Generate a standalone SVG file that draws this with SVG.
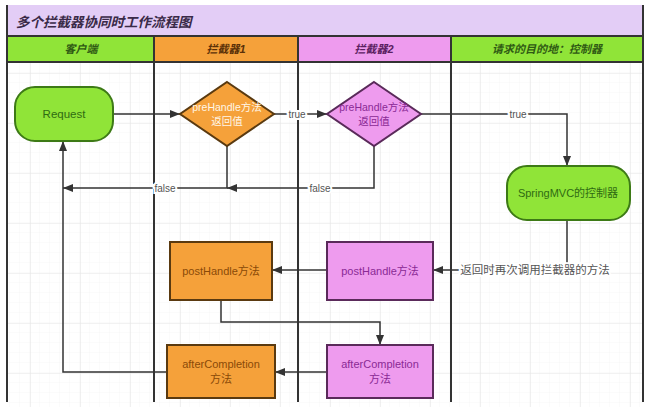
<svg xmlns="http://www.w3.org/2000/svg" width="655" height="407" viewBox="0 0 655 407">
<defs>
<pattern id="gridMinor" x="0" y="3" width="10" height="10" patternUnits="userSpaceOnUse">
<path d="M10,0 V10 M0,10 H10" fill="none" stroke="#f6f6f6" stroke-width="1"/>
</pattern>
<pattern id="gridMajor" x="30" y="23" width="50" height="50" patternUnits="userSpaceOnUse">
<path d="M0,0 V50 M0,0 H50" fill="none" stroke="#e6e6e6" stroke-width="1.2"/>
</pattern>
<marker id="arr" viewBox="0 0 10 8" refX="10" refY="4" markerWidth="10" markerHeight="8" markerUnits="userSpaceOnUse" orient="auto">
<path d="M0,0 L10,4 L0,8 z" fill="#333"/>
</marker>
<style>
text{font-family:"Liberation Sans","Noto Sans CJK SC",sans-serif;}
.hdr{font-size:11px;font-weight:bold;font-style:italic;text-anchor:middle;}
.lane{stroke:#333;stroke-width:2;fill:none;}
.conn{stroke:#333;stroke-width:1.5;fill:none;marker-end:url(#arr);}
.lbl{font-size:10px;fill:#555;text-anchor:middle;paint-order:stroke;stroke:#fff;stroke-width:4px;}
.green{fill:#90e438;stroke:#3d7a16;stroke-width:2;}
.orange{fill:#f5a13a;stroke:#5a3a10;stroke-width:2;}
.pink{fill:#ee9bee;stroke:#5a2a5a;stroke-width:2;}
.nt{font-size:11px;text-anchor:middle;}
.dt{font-size:10.5px;text-anchor:middle;}
.gt{fill:#2f6b12;}
.ot{fill:#8a4a08;}
.owt{fill:#fff6e6;}
.pt{fill:#8a2a95;}
</style>
</defs>
<rect x="0" y="0" width="655" height="407" fill="#fff"/>
<!-- grid -->
<rect x="7" y="62" width="636" height="345" fill="url(#gridMinor)"/>
<rect x="7" y="62" width="636" height="345" fill="url(#gridMajor)"/>
<!-- title -->
<rect x="7" y="5" width="636" height="31" fill="#e3cdf6"/>
<text x="16" y="27" font-size="13.5" font-weight="bold" font-style="italic" fill="#3a2a48">多个拦截器协同时工作流程图</text>
<!-- header -->
<rect x="7" y="36" width="147" height="26" fill="#90e438"/>
<rect x="154" y="36" width="144" height="26" fill="#f5a13a"/>
<rect x="298" y="36" width="153" height="26" fill="#ee9bee"/>
<rect x="451" y="36" width="192" height="26" fill="#90e438"/>
<text class="hdr" x="81" y="53" fill="#2f5a14">客户端</text>
<text class="hdr" x="226" y="53" fill="#5a3008">拦截器1</text>
<text class="hdr" x="374" y="53" fill="#5a2060">拦截器2</text>
<text class="hdr" x="547" y="53" fill="#2f5a14">请求的目的地：控制器</text>
<path class="lane" d="M7,36 H643 M7,62 H643"/>
<path class="lane" d="M7,5 V402 M643,5 V402 M154,36 V402 M298,36 V402 M451,36 V402"/>
<!-- connectors -->
<g id="connectors">
<path class="conn" d="M113,114 H180"/>
<path class="conn" d="M274,114 H327"/>
<text class="lbl" x="297" y="118">true</text>
<path class="conn" d="M421,114 H567 V166"/>
<text class="lbl" x="518" y="118">true</text>
<path class="conn" d="M227,146 V188 H63"/>
<text class="lbl" x="165" y="192">false</text>
<path class="conn" d="M374,146 V188 H227"/>
<text class="lbl" x="320" y="192">false</text>
<path class="conn" d="M567,220 V270 H433"/>
<text class="lbl" x="535" y="274" style="font-size:11.5px">返回时再次调用拦截器的方法</text>
<path class="conn" d="M327,270 H272"/>
<path class="conn" d="M221,300 V322 H380 V345"/>
<path class="conn" d="M327,372 H275"/>
<path class="conn" d="M167,372 H63 V141"/>
</g>
<!-- nodes -->
<g id="request">
<rect class="green" x="15" y="87" width="98" height="54" rx="20"/>
<text class="nt gt" x="64" y="118" style="font-size:11.5px">Request</text>
</g>
<g id="prehandle1">
<polygon class="orange" points="227,82 274,114 227,146 180,114"/>
<text class="dt owt" x="227" y="111">preHandle方法</text>
<text class="dt owt" x="227" y="125">返回值</text>
</g>
<g id="prehandle2">
<polygon class="pink" points="374,82 421,114 374,146 327,114"/>
<text class="dt pt" x="374" y="111">preHandle方法</text>
<text class="dt pt" x="374" y="125">返回值</text>
</g>
<g id="controller">
<rect class="green" x="507" y="166" width="123" height="54" rx="20"/>
<text class="nt gt" x="568" y="197">SpringMVC的控制器</text>
</g>
<g id="posthandle1">
<rect class="orange" x="170" y="242" width="102" height="58"/>
<text class="nt ot" x="221" y="275">postHandle方法</text>
</g>
<g id="posthandle2">
<rect class="pink" x="327" y="242" width="106" height="58"/>
<text class="nt pt" x="380" y="275">postHandle方法</text>
</g>
<g id="aftercompletion1">
<rect class="orange" x="167" y="345" width="108" height="53"/>
<text class="nt ot" x="221" y="368">afterCompletion</text>
<text class="nt ot" x="221" y="383">方法</text>
</g>
<g id="aftercompletion2">
<rect class="pink" x="327" y="345" width="106" height="53"/>
<text class="nt pt" x="380" y="368">afterCompletion</text>
<text class="nt pt" x="380" y="383">方法</text>
</g>
</svg>
